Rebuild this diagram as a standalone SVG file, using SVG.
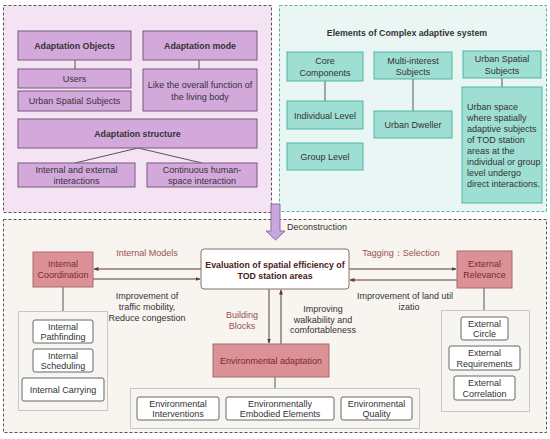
<svg xmlns="http://www.w3.org/2000/svg" width="550" height="439" viewBox="0 0 550 439">
<defs>
<marker id="ah" viewBox="0 0 10 10" refX="9" refY="5" markerWidth="5" markerHeight="5" orient="auto-start-reverse" markerUnits="userSpaceOnUse">
<path d="M0,1 L10,5 L0,9 z" fill="#5a3a36"/>
</marker>
<style>
text{font-family:"Liberation Sans",Arial,sans-serif;font-size:9px;text-anchor:middle;fill:#333}
.b{font-weight:bold;font-size:8.8px}
.l{text-anchor:start}
.pp{fill:#d3a9dc;stroke:#7a5a7e;stroke-width:1}
.tl{fill:#9fded2;stroke:#4fb5a3;stroke-width:1}
.rd{fill:#dc9196;stroke:#a86a6c;stroke-width:1}
.wh{fill:#ffffff;stroke:#666;stroke-width:1}
.grp{fill:#f7f5f1;stroke:#c8c8c4;stroke-width:1}
.ln{stroke:#555;stroke-width:1;fill:none}
.lab{fill:#9a5050}
.rt{fill:#7a2a2a}
</style>
</defs>
<!-- panels -->
<rect x="3.5" y="5.5" width="268" height="207" fill="#f4e3f3" stroke="#555" stroke-dasharray="3,2"/>
<rect x="279.5" y="5.5" width="267" height="206" fill="#eaf6f4" stroke="#4fb5a3" stroke-dasharray="3,2"/>
<rect x="3.5" y="219.5" width="543" height="213" fill="#f8f5f1" stroke="#555" stroke-dasharray="3,2"/>

<!-- big arrow -->
<g id="deconstruction">
<path d="M271,204 H280 V231 H285 L275.5,240 L266,231 H271 Z" fill="#c8a8dc" stroke="#8a6aa0" stroke-width="1"/>
<text class="l" x="287" y="230">Deconstruction</text>
</g>

<!-- connectors -->
<g id="connectors">
<line class="ln" x1="75" y1="60" x2="75" y2="69"/>
<line class="ln" x1="199" y1="60" x2="199" y2="69"/>
<line class="ln" x1="138" y1="148" x2="75" y2="163"/>
<line class="ln" x1="138" y1="148" x2="202" y2="163"/>
<line x1="325" y1="81" x2="325" y2="101" stroke="#555"/>
<line x1="413" y1="79" x2="413" y2="111" stroke="#555"/>
<line x1="502" y1="78" x2="502" y2="87" stroke="#555"/>
<line x1="201" y1="269" x2="94" y2="269" stroke="#5a3a36" marker-end="url(#ah)"/>
<line x1="93" y1="279" x2="200" y2="279" stroke="#5a3a36" marker-end="url(#ah)"/>
<line x1="349" y1="269" x2="456" y2="269" stroke="#5a3a36" marker-end="url(#ah)"/>
<line x1="457" y1="280" x2="350" y2="280" stroke="#5a3a36" marker-end="url(#ah)"/>
<line x1="269" y1="289" x2="269" y2="343" stroke="#5a3a36" marker-end="url(#ah)"/>
<line x1="281" y1="344" x2="281" y2="290" stroke="#5a3a36" marker-end="url(#ah)"/>
<line class="ln" x1="63" y1="287" x2="63" y2="320"/>
<line class="ln" x1="484" y1="288" x2="484" y2="317"/>
<line class="ln" x1="275" y1="377" x2="275" y2="388"/>
</g>

<!-- left panel nodes -->
<g id="adaptation-objects"><rect class="pp" x="18" y="31" width="113" height="29"/><text class="b" x="74.5" y="48.5">Adaptation Objects</text></g>
<g id="adaptation-mode"><rect class="pp" x="143" y="31" width="114" height="29"/><text class="b" x="200" y="48.5">Adaptation mode</text></g>
<g id="users"><rect class="pp" x="18" y="69" width="113" height="19"/><text x="74.5" y="82">Users</text></g>
<g id="urban-spatial-subjects-left"><rect class="pp" x="18" y="91" width="113" height="20"/><text x="74.5" y="104">Urban Spatial Subjects</text></g>
<g id="living-body"><rect class="pp" x="143" y="69" width="114" height="42"/><text x="200" y="88">Like the overall function of</text><text x="200" y="99.5">the living body</text></g>
<g id="adaptation-structure"><rect class="pp" x="18" y="119" width="239" height="29"/><text class="b" x="137.5" y="137">Adaptation structure</text></g>
<g id="interactions"><rect class="pp" x="18" y="163" width="117" height="24"/><text x="76.5" y="172.5">Internal and external</text><text x="76.5" y="184">interactions</text></g>
<g id="human-space"><rect class="pp" x="147" y="163" width="110" height="24"/><text x="202" y="172.5">Continuous human-</text><text x="202" y="184">space interaction</text></g>

<!-- right panel -->
<g id="cas-title"><text class="b" x="407" y="35.5">Elements of Complex adaptive system</text></g>
<g id="core-components"><rect class="tl" x="287" y="52" width="76" height="29"/><text x="325" y="64">Core</text><text x="325" y="75.5">Components</text></g>
<g id="individual-level"><rect class="tl" x="287" y="101" width="76" height="28"/><text x="325" y="118.5">Individual Level</text></g>
<g id="group-level"><rect class="tl" x="287" y="143" width="76" height="27"/><text x="325" y="160">Group Level</text></g>
<g id="multi-interest"><rect class="tl" x="374" y="52" width="78" height="27"/><text x="413" y="63.5">Multi-interest</text><text x="413" y="74.5">Subjects</text></g>
<g id="urban-dweller"><rect class="tl" x="374" y="111" width="78" height="27"/><text x="413" y="128">Urban Dweller</text></g>
<g id="urban-spatial-subjects-right"><rect class="tl" x="463" y="51" width="78" height="27"/><text x="502" y="62">Urban Spatial</text><text x="502" y="73.5">Subjects</text></g>
<g id="urban-space"><rect class="tl" x="462" y="87" width="80" height="116"/>
<text class="l" x="467" y="110">Urban space</text>
<text class="l" x="467" y="121">where spatially</text>
<text class="l" x="467" y="132">adaptive subjects</text>
<text class="l" x="467" y="142.5">of TOD station</text>
<text class="l" x="467" y="153.5">areas at the</text>
<text class="l" x="467" y="164.5">individual or group</text>
<text class="l" x="467" y="175.5">level undergo</text>
<text class="l" x="467" y="186.5">direct interactions.</text>
</g>

<!-- bottom panel -->
<rect class="grp" x="18.5" y="311.5" width="89" height="99"/>
<rect class="grp" x="130.5" y="388.5" width="289" height="40"/>
<rect class="grp" x="441.5" y="310.5" width="88" height="101"/>

<g id="evaluation"><rect x="201" y="249" width="148" height="40" rx="3" fill="#fff" stroke="#8a7060"/><text class="b" x="275" y="267.5" style="fill:#4a2020">Evaluation of spatial efficiency of</text><text class="b" x="275" y="278.5" style="fill:#4a2020">TOD station areas</text></g>
<g id="internal-coordination"><rect class="rd" x="33" y="252" width="60" height="35"/><text class="rt" x="63" y="267">Internal</text><text class="rt" x="63" y="278">Coordination</text></g>
<g id="external-relevance"><rect class="rd" x="457" y="251" width="55" height="37"/><text class="rt" x="484.5" y="267">External</text><text class="rt" x="484.5" y="278">Relevance</text></g>
<g id="environmental-adaptation"><rect class="rd" x="213" y="344" width="116" height="33"/><text class="rt" x="271" y="363.5">Environmental adaptation</text></g>

<g id="labels">
<text class="lab" x="147" y="256">Internal Models</text>
<text x="147" y="299">Improvement of</text>
<text x="147" y="310">traffic mobility,</text>
<text x="147" y="321">Reduce congestion</text>
<text class="lab" x="401" y="256">Tagging：Selection</text>
<text x="405" y="299">Improvement of land util</text>
<text x="409" y="310">izatio</text>
<text class="lab" x="242" y="318">Building</text>
<text class="lab" x="242" y="328.5">Blocks</text>
<text x="323" y="312">Improving</text>
<text x="323" y="322.5">walkability and</text>
<text x="323" y="333">comfortableness</text>
</g>

<g id="internal-pathfinding"><rect class="wh" x="33" y="320" width="60" height="23" rx="2"/><text x="63" y="329.5">Internal</text><text x="63" y="340">Pathfinding</text></g>
<g id="internal-scheduling"><rect class="wh" x="33" y="349" width="60" height="23" rx="2"/><text x="63" y="358.5">Internal</text><text x="63" y="369">Scheduling</text></g>
<g id="internal-carrying"><rect class="wh" x="22" y="378" width="82" height="23" rx="2"/><text x="63" y="392.5">Internal Carrying</text></g>

<g id="environmental-interventions"><rect class="wh" x="137" y="397" width="82" height="23" rx="2"/><text x="178" y="406.5">Environmental</text><text x="178" y="417">Interventions</text></g>
<g id="embodied-elements"><rect class="wh" x="226" y="397" width="108" height="23" rx="2"/><text x="280" y="406.5">Environmentally</text><text x="280" y="417">Embodied Elements</text></g>
<g id="environmental-quality"><rect class="wh" x="341" y="397" width="71" height="23" rx="2"/><text x="376.5" y="406.5">Environmental</text><text x="376.5" y="417">Quality</text></g>

<g id="external-circle"><rect class="wh" x="461" y="317" width="47" height="23" rx="2"/><text x="484.5" y="326.5">External</text><text x="484.5" y="337">Circle</text></g>
<g id="external-requirements"><rect class="wh" x="449" y="346" width="71" height="24" rx="2"/><text x="484.5" y="356">External</text><text x="484.5" y="366.5">Requirements</text></g>
<g id="external-correlation"><rect class="wh" x="454" y="376" width="61" height="24" rx="2"/><text x="484.5" y="386">External</text><text x="484.5" y="396.5">Correlation</text></g>
</svg>
